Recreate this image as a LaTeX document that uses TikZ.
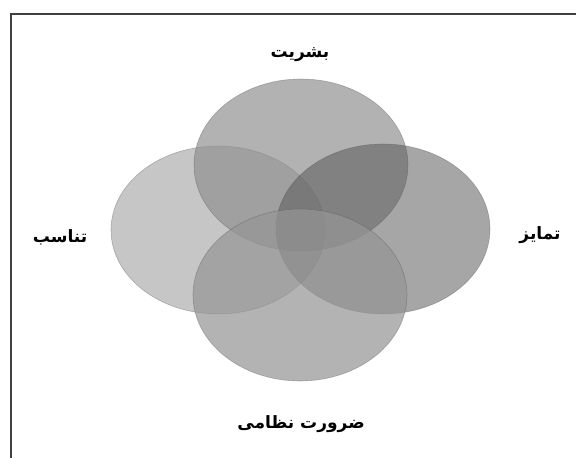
\documentclass[tikz,border=0pt]{standalone}
\usepackage{fontspec}
\TeXXeTstate=1
\newfontfamily\arabicfont[Script=Arabic]{DejaVu Sans}
\definecolor{cleft}{gray}{0.627}
\definecolor{ctop}{gray}{0.557}
\definecolor{cright}{gray}{0.341}
\definecolor{cbottom}{gray}{0.584}
\begin{document}
\begin{tikzpicture}[x=1pt,y=-1pt,
  venn/.style={draw=black!70,line width=0.6pt,draw opacity=0.35},
  lbl/.style={font=\arabicfont\bfseries\fontsize{17}{20}\selectfont,text=black,inner sep=0pt}]
\useasboundingbox (0,0) rectangle (576,458);
\fill[white] (0,0) rectangle (576,458);
\coordinate (fb) at (11,458);
\coordinate (fc) at (11,14);
\coordinate (fr) at (576,14);
\draw[line width=1.4pt,black!75] (fb) -- (fc) -- (fr);
% circles
\path[venn,fill=cleft,fill opacity=0.6] (218,230) ellipse [x radius=107,y radius=84];
\path[venn,fill=ctop,fill opacity=0.68] (301,165) ellipse [x radius=107,y radius=86];
\path[venn,fill=cright,fill opacity=0.53] (383,229) ellipse [x radius=107,y radius=85];
\path[venn,fill=cbottom,fill opacity=0.71] (300,295) ellipse [x radius=107,y radius=86];
% labels
\node[lbl] (top) at (300,55) {\beginR بشریت\endR};
\node[lbl] (right) at (540,235) {\beginR تمایز\endR};
\node[lbl] (left) at (60,237) {\beginR تناسب\endR};
\node[lbl] (bottom) at (301,424) {\beginR ضرورت نظامی\endR};
\end{tikzpicture}
\end{document}
